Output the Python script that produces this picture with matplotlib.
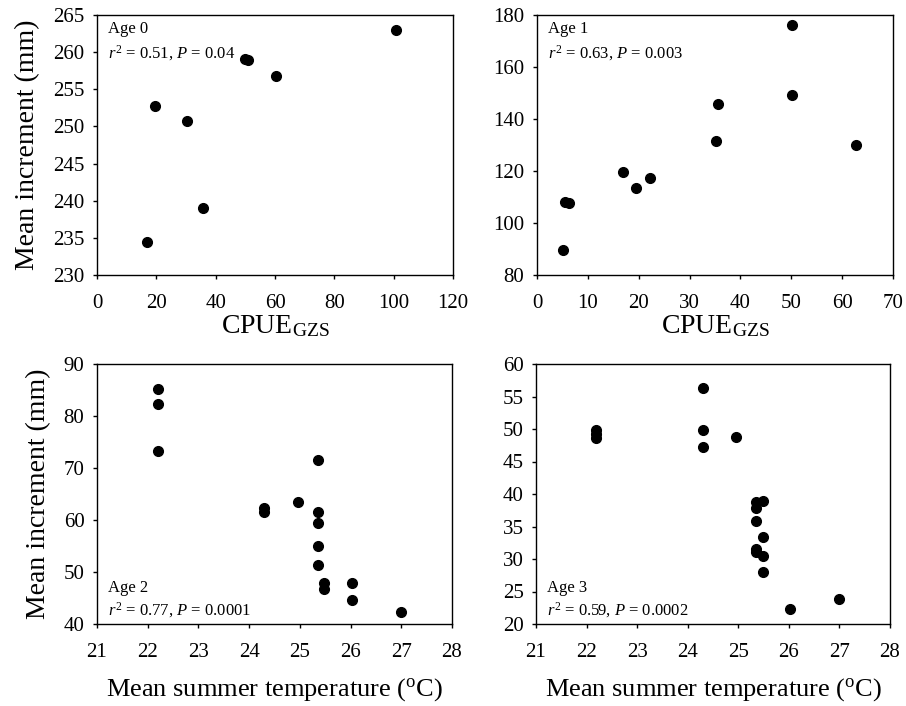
import matplotlib.pyplot as plt

plt.rcParams['font.family'] = ['Liberation Serif', 'DejaVu Serif']
plt.rcParams['mathtext.fontset'] = 'custom'
plt.rcParams['mathtext.rm'] = 'Liberation Serif'
plt.rcParams['mathtext.it'] = 'Liberation Serif:italic'

# Age 0: CPUE_GZS vs mean increment
cpue_age0 = [16.8, 19.4, 30.3, 35.7, 50.0, 51.0, 60.3, 100.9]
inc_age0 = [234.5, 252.7, 250.7, 239.0, 259.1, 259.0, 256.8, 263.0]

# Age 1: CPUE_GZS vs mean increment
cpue_age1 = [5.1, 5.6, 6.2, 16.9, 19.4, 22.3, 35.2, 35.5, 50.1, 50.1, 62.8]
inc_age1 = [89.7, 107.9, 107.7, 119.8, 113.6, 117.3, 131.5, 145.8, 176.0, 149.3, 130.1]

# Age 2: mean summer temperature vs mean increment
temp_age2 = [22.2, 22.2, 22.2, 24.3, 24.3, 24.97, 25.36, 25.36, 25.36, 25.36, 25.36,
             25.48, 25.48, 26.02, 26.02, 27.0]
inc_age2 = [85.2, 82.3, 73.3, 62.3, 61.5, 63.4, 71.5, 61.5, 59.5, 55.0, 51.4,
            47.8, 46.7, 47.8, 44.6, 42.4]

# Age 3: mean summer temperature vs mean increment
temp_age3 = [22.18, 22.18, 22.18, 24.31, 24.31, 24.31, 24.96, 25.35, 25.35, 25.35,
             25.35, 25.35, 25.48, 25.48, 25.49, 25.49, 26.02, 27.0]
inc_age3 = [49.8, 49.3, 48.6, 56.3, 49.8, 47.3, 48.7, 38.7, 37.9, 35.9,
            31.5, 31.1, 39.0, 33.4, 30.5, 28.0, 22.3, 23.8]

W, H = 906, 706
fig = plt.figure(figsize=(W / 100, H / 100), dpi=100)


def px_axes(left, top, right, bottom):
    return fig.add_axes([left / W, (H - bottom) / H, (right - left) / W, (bottom - top) / H])


panels = [
    (px_axes(97, 15, 453, 275), cpue_age0, inc_age0, (0, 120, 20), (230, 265, 5),
     "Age 0", r"$r^2$ = 0.51, $P$ = 0.04", "top"),
    (px_axes(537, 15, 893, 275), cpue_age1, inc_age1, (0, 70, 10), (80, 180, 20),
     "Age 1", r"$r^2$ = 0.63, $P$ = 0.003", "top"),
    (px_axes(97, 364, 452, 624), temp_age2, inc_age2, (21, 28, 1), (40, 90, 10),
     "Age 2", r"$r^2$ = 0.77, $P$ = 0.0001", "bottom"),
    (px_axes(536, 364, 890, 624), temp_age3, inc_age3, (21, 28, 1), (20, 60, 5),
     "Age 3", r"$r^2$ = 0.59, $P$ = 0.0002", "bottom"),
]

for ax, xs, ys, xr, yr, age, stat, where in panels:
    ax.plot(xs, ys, 'o', color='black', markersize=7, linestyle='none')
    ax.set_xlim(xr[0], xr[1])
    ax.set_ylim(yr[0], yr[1])
    ax.set_xticks(range(xr[0], xr[1] + 1, xr[2]))
    ax.set_yticks(range(yr[0], yr[1] + 1, yr[2]))
    ax.tick_params(direction='out', length=3, width=1, labelsize=15)
    ax.tick_params(axis='x', pad=11)
    ax.tick_params(axis='y', pad=6)
    for s in ax.spines.values():
        s.set_linewidth(1)
    if where == "top":
        ax.text(0.03, 0.945, age, transform=ax.transAxes, fontsize=12, va='center')
        ax.text(0.03, 0.855, stat, transform=ax.transAxes, fontsize=12, va='center')
    else:
        ax.text(0.03, 0.14, age, transform=ax.transAxes, fontsize=12, va='center')
        ax.text(0.03, 0.055, stat, transform=ax.transAxes, fontsize=12, va='center')

for ax in (panels[0][0], panels[1][0]):
    ax.set_xlabel(r"CPUE$_{\mathrm{GZS}}$", fontsize=20, labelpad=0)
for ax in (panels[2][0], panels[3][0]):
    ax.set_xlabel(r"Mean summer temperature ($^{\mathrm{o}}$C)", fontsize=19, labelpad=10)
for ax in (panels[0][0], panels[2][0]):
    ax.set_ylabel("Mean increment (mm)", fontsize=20, labelpad=9)

fig.savefig("out.png", dpi=100)
